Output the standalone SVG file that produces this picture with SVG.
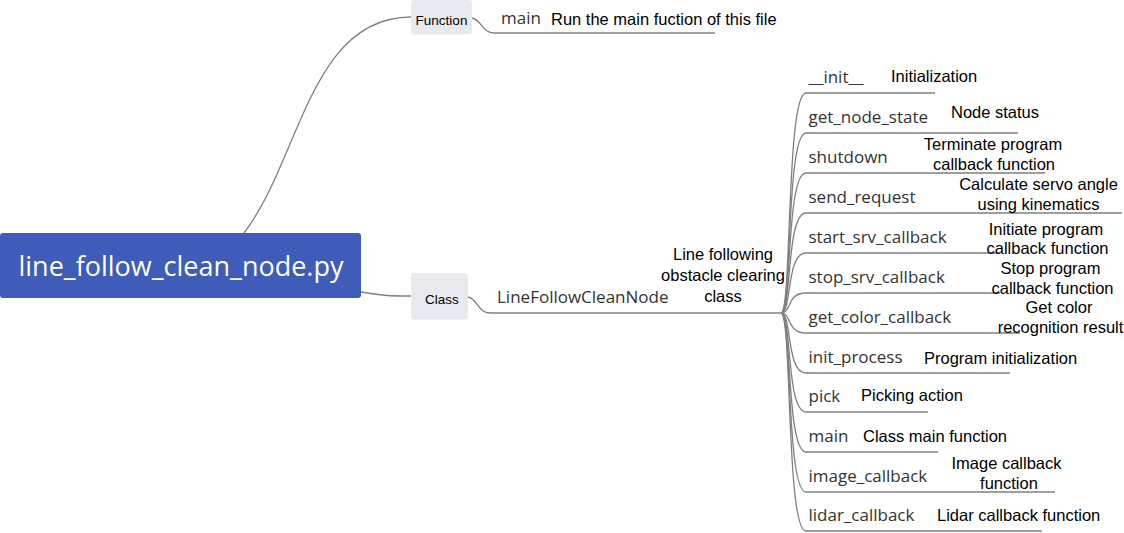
<svg xmlns="http://www.w3.org/2000/svg" width="1124" height="533" viewBox="0 0 1124 533">
<style>
.ln{fill:none;stroke:#808080;stroke-width:1.3}
.box{fill:#e9e9f0}
.lab{font-family:"Liberation Sans",Arial,sans-serif;font-size:13.5px;fill:#000}
.nm{font-family:"Open Sans","Noto Sans",sans-serif;font-size:17px;fill:#333}
.ds{font-family:"Liberation Sans",Arial,sans-serif;font-size:16.5px;fill:#000}
.mid{text-anchor:middle}
</style>
<rect width="1124" height="533" fill="#fff"/>
<g id="connectors">
<path class="ln" d="M244,233 C300,160 310,17 411,17"/>
<path class="ln" d="M361,292 C385,296 390,296 411,296"/>
<path class="ln" d="M472,18 C482,20 482,33 494,33 L715,33"/>
<path class="ln" d="M468,297 C478,299 478,313 490,313 L781,313"/>
<path class="ln" d="M781,313 C792,313 786,93 806,93 L935,93"/>
<path class="ln" d="M781,313 C792,313 786,133 806,133 L1018,133"/>
<path class="ln" d="M781,313 C792,313 786,173 806,173 L1045,173"/>
<path class="ln" d="M781,313 C792,313 786,213 806,213 L1122,213"/>
<path class="ln" d="M781,313 C792,313 786,253 806,253 L1000,253"/>
<path class="ln" d="M781,313 C792,313 786,293 806,293 L1000,293"/>
<path class="ln" d="M781,313 C792,313 786,333 806,333 L1020,333"/>
<path class="ln" d="M781,313 C792,313 786,373 806,373 L1010,373"/>
<path class="ln" d="M781,313 C792,313 786,412 806,412 L928,412"/>
<path class="ln" d="M781,313 C792,313 786,452 806,452 L938,452"/>
<path class="ln" d="M781,313 C792,313 786,492 806,492 L1055,492"/>
<path class="ln" d="M781,313 C792,313 786,531 806,531 L1042,531"/>
</g>
<g id="root">
<rect x="0" y="233" width="361" height="65" rx="3" fill="#3e5cb8"/>
<text x="181" y="276" text-anchor="middle" font-family="Open Sans, Noto Sans, sans-serif" font-size="27" fill="#fff">line_follow_clean_node.py</text>
</g>
<g id="function">
<rect class="box" x="411" y="0" width="61" height="34.5" rx="3"/>
<text class="lab" x="441.5" y="25" text-anchor="middle">Function</text>
</g>
<g id="class">
<rect class="box" x="411" y="273" width="57" height="46.5" rx="3"/>
<text class="lab" x="442" y="304" text-anchor="middle">Class</text>
</g>
<g id="func-main">
<text class="nm" x="501" y="24">main</text>
<text class="ds" x="551" y="25">Run the main fuction of this file</text>
</g>
<g id="linefollowcleannode">
<text class="nm" x="497" y="303">LineFollowCleanNode</text>
<text class="ds mid" x="723" y="260">Line following</text>
<text class="ds mid" x="723" y="281">obstacle clearing</text>
<text class="ds mid" x="723" y="302">class</text>
</g>
<g id="init">
<text class="nm" x="808.5" y="83">__init__</text>
<text class="ds" x="891" y="82">Initialization</text>
</g>
<g id="get_node_state">
<text class="nm" x="808.5" y="123">get_node_state</text>
<text class="ds" x="951" y="118">Node status</text>
</g>
<g id="shutdown">
<text class="nm" x="808.5" y="163">shutdown</text>
<text class="ds mid" x="993" y="150">Terminate program</text>
<text class="ds mid" x="994" y="170">callback function</text>
</g>
<g id="send_request">
<text class="nm" x="808.5" y="203">send_request</text>
<text class="ds mid" x="1038.5" y="190">Calculate servo angle</text>
<text class="ds mid" x="1038.5" y="210">using kinematics</text>
</g>
<g id="start_srv_callback">
<text class="nm" x="808.5" y="242.5">start_srv_callback</text>
<text class="ds mid" x="1046" y="234.5">Initiate program</text>
<text class="ds mid" x="1047.5" y="254">callback function</text>
</g>
<g id="stop_srv_callback">
<text class="nm" x="808.5" y="282.5">stop_srv_callback</text>
<text class="ds mid" x="1050.5" y="274">Stop program</text>
<text class="ds mid" x="1052.5" y="294">callback function</text>
</g>
<g id="get_color_callback">
<text class="nm" x="808.5" y="322.5">get_color_callback</text>
<text class="ds mid" x="1059" y="312.5">Get color</text>
<text class="ds mid" x="1060.5" y="333">recognition result</text>
</g>
<g id="init_process">
<text class="nm" x="808.5" y="362.5">init_process</text>
<text class="ds" x="924" y="364">Program initialization</text>
</g>
<g id="pick">
<text class="nm" x="808.5" y="401.5">pick</text>
<text class="ds" x="861" y="401">Picking action</text>
</g>
<g id="class-main">
<text class="nm" x="808.5" y="441.5">main</text>
<text class="ds" x="863" y="442">Class main function</text>
</g>
<g id="image_callback">
<text class="nm" x="808.5" y="481.5">image_callback</text>
<text class="ds mid" x="1006.5" y="469">Image callback</text>
<text class="ds mid" x="1009" y="489">function</text>
</g>
<g id="lidar_callback">
<text class="nm" x="808.5" y="521">lidar_callback</text>
<text class="ds" x="937" y="521">Lidar callback function</text>
</g>
</svg>
